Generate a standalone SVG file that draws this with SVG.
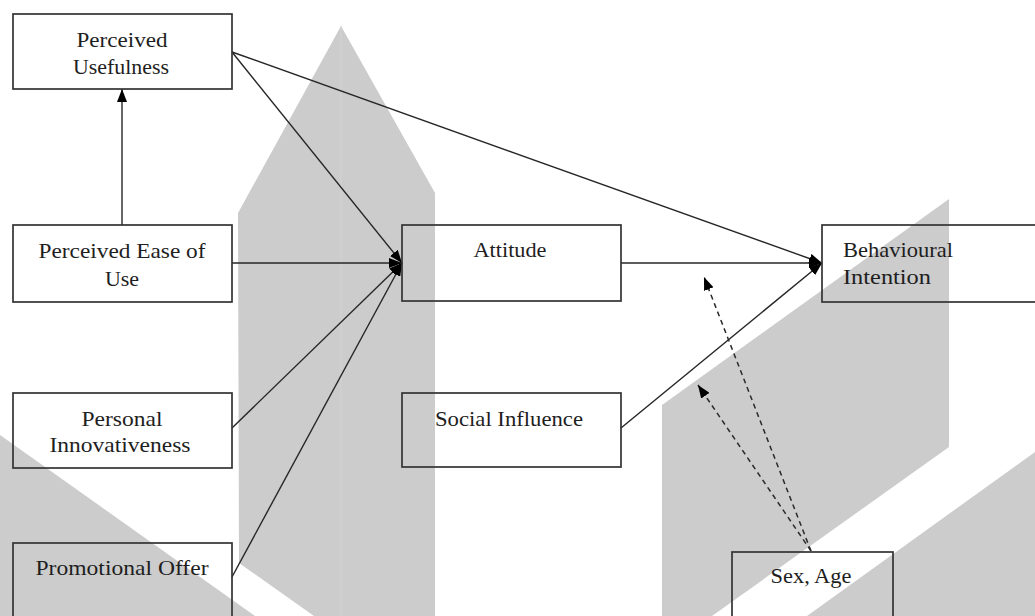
<svg xmlns="http://www.w3.org/2000/svg" width="1035" height="616" viewBox="0 0 1035 616">
  <style>
    .bg { fill: #cccccc; stroke: none; }
    .box { fill: none; stroke: #333333; stroke-width: 1.7; }
    .lbl { font-family: "Liberation Serif", "DejaVu Serif", serif; font-size: 22px; fill: #1e1e1e; }
    .c { text-anchor: middle; }
    .edge { fill: none; stroke: #262626; stroke-width: 1.4; }
    .dash { fill: none; stroke: #2a2a2a; stroke-width: 1.5; stroke-dasharray: 5 4; }
  </style>
  <defs>
    <marker id="arrow" markerUnits="userSpaceOnUse" viewBox="0 0 13 10" refX="13" refY="5" markerWidth="13" markerHeight="10" orient="auto">
      <path d="M0,0 L13,5 L0,10 z" fill="#000"/>
    </marker>
  </defs>

  <rect width="1035" height="616" fill="#ffffff"/>

  <g id="background">
    <polygon class="bg" points="238,213 341,26 435,193 435,616 314,616 239,563"/>
    <line x1="341" y1="26" x2="341" y2="616" stroke="#d3d3d3" stroke-width="1"/>
    <polygon class="bg" points="0,435 255,616 0,616"/>
    <polygon class="bg" points="662,405 949,199 949,447 712,616 662,616"/>
    <polygon class="bg" points="807,616 1035,452 1035,616"/>
  </g>

  <g id="connectors">
    <line class="edge" x1="122" y1="225" x2="122" y2="89" marker-end="url(#arrow)"/>
    <line class="edge" x1="232" y1="52" x2="402" y2="263" marker-end="url(#arrow)"/>
    <line class="edge" x1="232" y1="52" x2="822" y2="263" marker-end="url(#arrow)"/>
    <line class="edge" x1="232" y1="263" x2="402" y2="263" marker-end="url(#arrow)"/>
    <line class="edge" x1="232" y1="428" x2="402" y2="263" marker-end="url(#arrow)"/>
    <line class="edge" x1="232" y1="577" x2="402" y2="263" marker-end="url(#arrow)"/>
    <line class="edge" x1="621" y1="263" x2="822" y2="263" marker-end="url(#arrow)"/>
    <line class="edge" x1="621" y1="428" x2="822" y2="263" marker-end="url(#arrow)"/>
    <line class="dash" x1="811" y1="551" x2="704" y2="277" marker-end="url(#arrow)"/>
    <line class="dash" x1="811" y1="551" x2="698" y2="385" marker-end="url(#arrow)"/>
  </g>

  <g id="perceived-usefulness">
    <rect class="box" x="13" y="14" width="219" height="75"/>
    <text class="lbl c" x="122" y="47" textLength="91" lengthAdjust="spacingAndGlyphs">Perceived</text>
    <text class="lbl c" x="121" y="74" textLength="96" lengthAdjust="spacingAndGlyphs">Usefulness</text>
  </g>

  <g id="perceived-ease-of-use">
    <rect class="box" x="13" y="225" width="219" height="77"/>
    <text class="lbl c" x="122" y="258" textLength="167" lengthAdjust="spacingAndGlyphs">Perceived Ease of</text>
    <text class="lbl c" x="122" y="286">Use</text>
  </g>

  <g id="personal-innovativeness">
    <rect class="box" x="13" y="393" width="219" height="75"/>
    <text class="lbl c" x="122" y="426" textLength="81" lengthAdjust="spacingAndGlyphs">Personal</text>
    <text class="lbl c" x="120" y="452" textLength="141" lengthAdjust="spacingAndGlyphs">Innovativeness</text>
  </g>

  <g id="promotional-offer">
    <rect class="box" x="13" y="543" width="219" height="90"/>
    <text class="lbl c" x="122" y="575" textLength="173" lengthAdjust="spacingAndGlyphs">Promotional Offer</text>
  </g>

  <g id="attitude">
    <rect class="box" x="402" y="225" width="219" height="76"/>
    <text class="lbl c" x="510" y="257" textLength="73" lengthAdjust="spacingAndGlyphs">Attitude</text>
  </g>

  <g id="social-influence">
    <rect class="box" x="402" y="393" width="219" height="74"/>
    <text class="lbl c" x="509" y="426" textLength="148" lengthAdjust="spacingAndGlyphs">Social Influence</text>
  </g>

  <g id="behavioural-intention">
    <rect class="box" x="822" y="225" width="230" height="77"/>
    <text class="lbl" x="843" y="257" textLength="110" lengthAdjust="spacingAndGlyphs">Behavioural</text>
    <text class="lbl" x="843" y="284" textLength="88" lengthAdjust="spacingAndGlyphs">Intention</text>
  </g>

  <g id="sex-age">
    <rect class="box" x="732" y="552" width="161" height="80"/>
    <text class="lbl c" x="811" y="583" textLength="81" lengthAdjust="spacingAndGlyphs">Sex, Age</text>
  </g>
</svg>
